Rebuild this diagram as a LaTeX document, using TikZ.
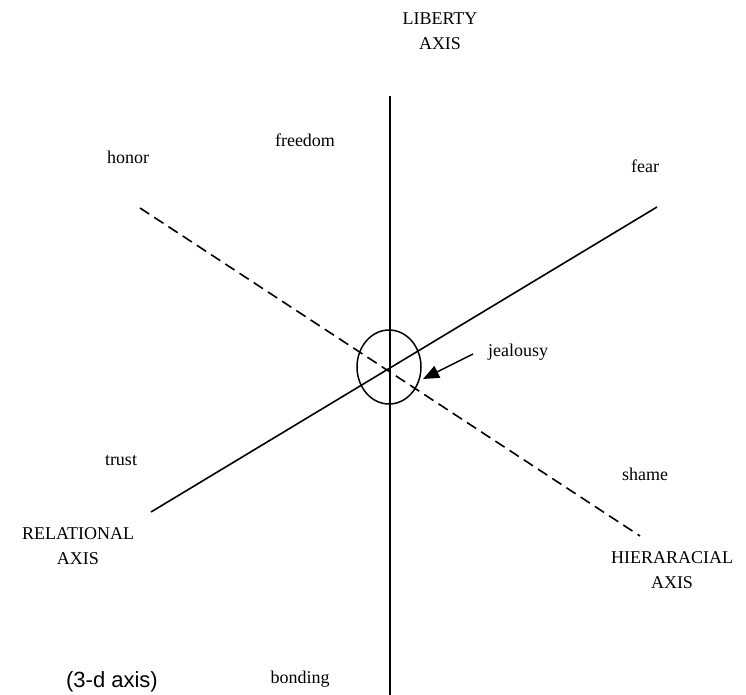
\documentclass[tikz,border=0pt]{standalone}
\usepackage{fontspec}
\setmainfont{Liberation Serif}
\setsansfont{Liberation Sans}
\usetikzlibrary{shapes.geometric,arrows.meta}
\begin{document}
\begin{tikzpicture}[x=1pt,y=-1pt,
  lbl/.style={font=\fontsize{18}{25}\selectfont, inner sep=0pt, align=center},
  axisline/.style={line width=1.6pt},
  dashaxis/.style={line width=1.6pt, dash pattern=on 11pt off 6pt}]
\useasboundingbox (0,0) rectangle (746,695);
% axis end points
\coordinate (vtop) at (390,96);
\coordinate (vbot) at (390,695);
\coordinate (sl) at (151,512);
\coordinate (sr) at (657,207);
\coordinate (dl) at (140,208);
\coordinate (dr) at (640,536);
% centre ellipse
\node[draw, ellipse, line width=1.5pt, minimum width=64pt, minimum height=74pt, inner sep=0pt] (ctr) at (389,367) {};
% axes
\draw[axisline] (vtop) -- (vbot);
\draw[axisline] (sl) -- (sr);
\draw[dashaxis] (dl) -- (dr);
% labels
\node[lbl] (liberty) at (440,31) {LIBERTY\\AXIS};
\node[lbl] (freedom) at (305,140) {freedom};
\node[lbl] (honor) at (128,157) {honor};
\node[lbl] (fear) at (645,166) {fear};
\node[lbl] (jeal) at (518,352) {jealousy};
\node[lbl] (trust) at (121,461) {trust};
\node[lbl] (shame) at (645,474) {shame};
\node[lbl] (relational) at (78,546) {RELATIONAL\\AXIS};
\node[lbl] (hier) at (672,570) {HIERARACIAL\\AXIS};
\node[lbl] (bonding) at (300,679) {bonding};
\node[font=\sffamily\fontsize{22}{26}\selectfont, inner sep=0pt] (three) at (112,682) {(3-d axis)};
% arrow to centre
\coordinate (astart) at (473,354);
\coordinate (atip) at (423,379);
\draw[line width=1.5pt, -{Triangle[length=16pt,width=13pt]}] (astart) -- (atip);
\end{tikzpicture}
\end{document}
